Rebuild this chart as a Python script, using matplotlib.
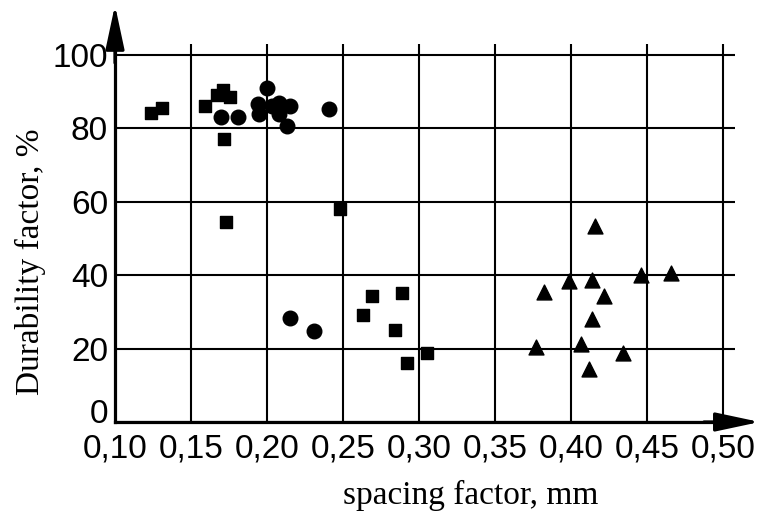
import matplotlib
matplotlib.use('Agg')
import matplotlib.pyplot as plt
import matplotlib.transforms as mtransforms

# данные
sq_x = [0.124, 0.131, 0.159, 0.167, 0.171, 0.176, 0.172, 0.173, 0.248,
        0.269, 0.289, 0.263, 0.284, 0.305, 0.292]
sq_y = [84.2, 85.6, 86.0, 89.0, 90.6, 88.5, 77.2, 54.5, 58.1,
        34.4, 35.1, 29.2, 25.1, 18.7, 16.0]

circ_x = [0.170, 0.181, 0.200, 0.194, 0.195, 0.203, 0.208, 0.208, 0.215,
          0.213, 0.241, 0.215, 0.231]
circ_y = [83.0, 83.0, 90.9, 86.7, 83.8, 86.0, 87.0, 84.0, 86.0,
          80.6, 85.3, 28.3, 24.9]

tri_x = [0.416, 0.399, 0.414, 0.446, 0.466, 0.382, 0.422, 0.414,
         0.377, 0.407, 0.434, 0.412]
tri_y = [53.5, 38.3, 38.7, 40.1, 40.7, 35.4, 34.4, 28.0,
         20.5, 21.3, 18.9, 14.4]

x_ticks = [0.10, 0.15, 0.20, 0.25, 0.30, 0.35, 0.40, 0.45, 0.50]
x_labels = ['0,10', '0,15', '0,20', '0,25', '0,30', '0,35', '0,40', '0,45', '0,50']
y_ticks = [0, 20, 40, 60, 80, 100]

sans = ['Liberation Sans', 'DejaVu Sans']
serif = ['Liberation Serif', 'DejaVu Serif']

fig = plt.figure(figsize=(7.61, 5.13), dpi=100)
ax = fig.add_axes([0.1511, 0.1774, 0.8147, 0.7368])

ax.scatter(sq_x, sq_y, marker='s', s=70, color='black', zorder=3)
ax.scatter(circ_x, circ_y, marker='o', s=110, color='black', zorder=3)
ax.scatter(tri_x, tri_y, marker='^', s=115, color='black', zorder=3)

ax.set_xlim(0.10, 0.508)
ax.set_ylim(0, 103)
ax.set_xticks(x_ticks)
ax.set_xticklabels(x_labels, fontfamily=sans, fontsize=24)
ax.set_yticks(y_ticks)
ax.set_yticklabels([str(v) for v in y_ticks], fontfamily=sans, fontsize=24)
ax.tick_params(length=0)
ax.tick_params(axis='x', pad=8)
ax.tick_params(axis='y', pad=5)
# нолик по Y поднят над осью, как в оригинале
shift = mtransforms.ScaledTranslation(0, 11 / 100, fig.dpi_scale_trans)
lbl0 = ax.get_yticklabels()[0]
lbl0.set_transform(lbl0.get_transform() + shift)
ax.grid(True, color='black', lw=1.5)
ax.set_axisbelow(True)

for s in ['top', 'right']:
    ax.spines[s].set_visible(False)
for s in ['left', 'bottom']:
    ax.spines[s].set_linewidth(2.3)

# стрелки осей
arrow = dict(arrowstyle='-|>,head_length=1.5,head_width=0.32', lw=2.3,
             color='black', mutation_scale=18, shrinkA=0, shrinkB=0)
ax.annotate('', xy=(0, 1.103), xytext=(0, 0.95), xycoords='axes fraction',
            arrowprops=arrow, annotation_clip=False)
ax.annotate('', xy=(1.040, 0), xytext=(0.95, 0), xycoords='axes fraction',
            arrowprops=arrow, annotation_clip=False)

fig.text(0.618, 0.035, 'spacing factor, mm', fontfamily=serif, fontsize=24,
         ha='center', va='center')
fig.text(0.040, 0.49, 'Durability factor, %', fontfamily=serif, fontsize=24,
         ha='center', va='center', rotation=90)

plt.savefig('out.png', dpi=100)
